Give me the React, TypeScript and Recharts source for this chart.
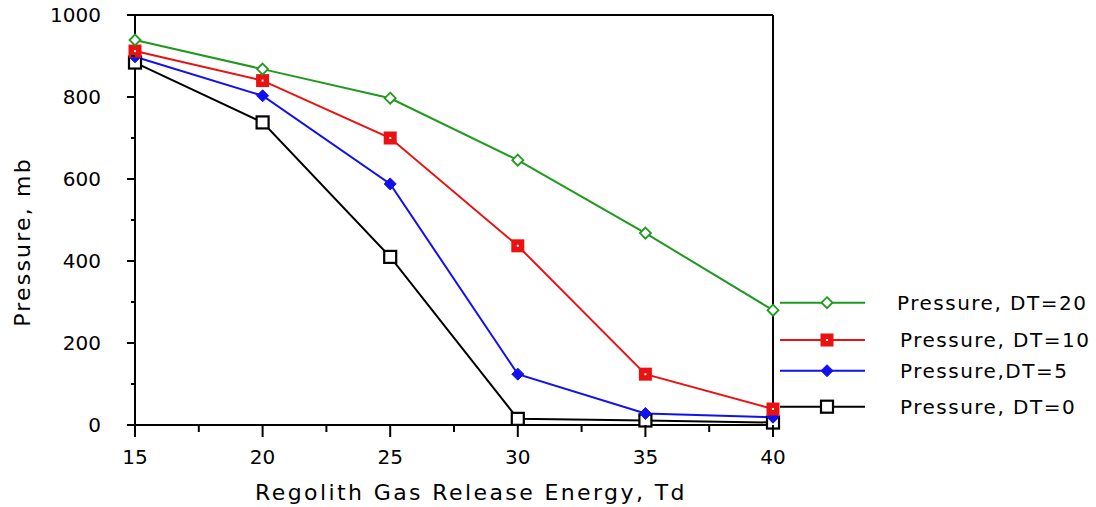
import React from 'react';
import { LineChart, Line, XAxis, YAxis, Legend, ReferenceLine, Label } from 'recharts';

// ---- data ----
const energies = [15, 20, 25, 30, 35, 40];
const pressureDT20 = [939, 868, 797, 646, 468, 280];
const pressureDT10 = [912, 840, 700, 437, 124, 39];
const pressureDT5 = [898, 803, 588, 124, 28, 19];
const pressureDT0 = [884, 738, 410, 15, 11, 6];

const xMajorTicks = [15, 20, 25, 30, 35, 40];
const xMinorTicks = [17.5, 22.5, 27.5, 32.5, 37.5];
const yMajorTicks = [0, 200, 400, 600, 800, 1000];
const yMinorTicks = [100, 300, 500, 700, 900];

const xTitle = 'Regolith Gas Release Energy, Td';
const yTitle = 'Pressure, mb';

type Kind = 'diamondOpen' | 'squareRed' | 'diamondFilled' | 'squareOpen';

const seriesList: { key: string; name: string; color: string; kind: Kind }[] = [
  { key: 'dt20', name: 'Pressure, DT=20', color: '#1f9a1f', kind: 'diamondOpen' },
  { key: 'dt10', name: 'Pressure, DT=10', color: '#ec1111', kind: 'squareRed' },
  { key: 'dt5', name: 'Pressure,DT=5', color: '#1111ee', kind: 'diamondFilled' },
  { key: 'dt0', name: 'Pressure, DT=0', color: '#000000', kind: 'squareOpen' },
];

const data = energies.map((e, i) => ({
  energy: e,
  dt20: pressureDT20[i],
  dt10: pressureDT10[i],
  dt5: pressureDT5[i],
  dt0: pressureDT0[i],
}));

// ---- style ----
const FONT = 'DejaVu Sans';
const LEGEND_ROWS = [17.7, 55, 85.7, 121.7];
const LEGEND_TEXT_X = [121, 124, 124, 124];

function Marker({ kind, cx, cy, color }: { kind: Kind; cx: number; cy: number; color: string }) {
  if (cx == null || cy == null) return <g />;
  switch (kind) {
    case 'diamondOpen':
      return (
        <polygon
          points={`${cx},${cy - 5.5} ${cx + 5.5},${cy} ${cx},${cy + 5.5} ${cx - 5.5},${cy}`}
          fill="#fff"
          stroke={color}
          strokeWidth={1.8}
        />
      );
    case 'squareRed':
      return (
        <g>
          <rect x={cx - 6.5} y={cy - 6.5} width={13} height={13} fill={color} />
          <rect x={cx - 1} y={cy - 1} width={2} height={2} fill="#fff" />
        </g>
      );
    case 'diamondFilled':
      return (
        <polygon
          points={`${cx},${cy - 6} ${cx + 6},${cy} ${cx},${cy + 6} ${cx - 6},${cy}`}
          fill={color}
          stroke={color}
          strokeWidth={1}
        />
      );
    case 'squareOpen':
    default:
      return <rect x={cx - 6} y={cy - 6} width={12} height={12} fill="#fff" stroke={color} strokeWidth={2.2} />;
  }
}

const XTick = (props: any) => {
  const { x, y, payload } = props;
  const major = xMajorTicks.includes(payload.value);
  return (
    <g>
      <line x1={x} y1={y} x2={x} y2={y + (major ? 12 : 7)} stroke="#000" strokeWidth={2} />
      {major && (
        <text x={x} y={y + 32} textAnchor="middle" dominantBaseline="central" fontFamily={FONT} fontSize={20} fill="#000">
          {payload.value}
        </text>
      )}
    </g>
  );
};

const YTick = (props: any) => {
  const { x, y, payload } = props;
  const major = yMajorTicks.includes(payload.value);
  return (
    <g>
      <line x1={x} y1={y} x2={x - (major ? 8 : 4)} y2={y} stroke="#000" strokeWidth={2} />
      {major && (
        <text x={x - 34} y={y} textAnchor="end" dominantBaseline="central" fontFamily={FONT} fontSize={20} fill="#000">
          {payload.value}
        </text>
      )}
    </g>
  );
};

const renderLegend = () => (
  <svg width={320} height={140} style={{ overflow: 'visible', display: 'block' }}>
    {seriesList.map((s, i) => {
      const cy = LEGEND_ROWS[i];
      return (
        <g key={s.key}>
          <line x1={4} y1={cy} x2={89} y2={cy} stroke={s.color} strokeWidth={2} />
          <Marker kind={s.kind} cx={51} cy={cy} color={s.color} />
          <text
            x={LEGEND_TEXT_X[i]}
            y={cy}
            dominantBaseline="central"
            fontFamily={FONT}
            fontSize={20}
            letterSpacing={1.5}
            fill="#000"
          >
            {s.name}
          </text>
        </g>
      );
    })}
  </svg>
);

const drawOrder = [...seriesList].reverse();

export default function App() {
  const xTicks = [...xMajorTicks, ...xMinorTicks].sort((a, b) => a - b);
  const yTicks = [...yMajorTicks, ...yMinorTicks].sort((a, b) => a - b);
  return (
    <div style={{ position: 'absolute', left: 0, top: 0, width: 1096, height: 507, background: '#fff' }}>
      <LineChart width={1096} height={507} data={data} margin={{ top: 15, right: 323, bottom: 22, left: 75 }}>
        <XAxis
          dataKey="energy"
          type="number"
          domain={[15, 40]}
          ticks={xTicks}
          interval={0}
          tickLine={false}
          tickSize={0}
          tickMargin={0}
          tick={<XTick />}
          height={60}
          axisLine={{ stroke: '#000', strokeWidth: 2 }}
        >
          <Label
            content={(p: any) => {
              const vb = p.viewBox;
              return (
                <text
                  x={vb.x + vb.width / 2 + 17}
                  y={492}
                  textAnchor="middle"
                  dominantBaseline="central"
                  fontFamily={FONT}
                  fontSize={22}
                  letterSpacing={2.4}
                  fill="#000"
                >
                  {xTitle}
                </text>
              );
            }}
          />
        </XAxis>
        <YAxis
          type="number"
          domain={[0, 1000]}
          ticks={yTicks}
          interval={0}
          tickLine={false}
          tickSize={0}
          tickMargin={0}
          tick={<YTick />}
          width={60}
          axisLine={{ stroke: '#000', strokeWidth: 2 }}
        >
          <Label
            content={() => (
              <text
                x={22}
                y={242}
                transform="rotate(-90 22 242)"
                textAnchor="middle"
                dominantBaseline="central"
                fontFamily={FONT}
                fontSize={22}
                letterSpacing={2.2}
                fill="#000"
              >
                {yTitle}
              </text>
            )}
          />
        </YAxis>
        <ReferenceLine y={1000} stroke="#000" strokeWidth={2} />
        <ReferenceLine x={40} stroke="#000" strokeWidth={2} />
        {drawOrder.map((s) => (
          <Line
            key={s.key}
            dataKey={s.key}
            name={s.name}
            stroke={s.color}
            strokeWidth={2}
            isAnimationActive={false}
            dot={(p: any) => <Marker key={`${s.key}-${p.index}`} kind={s.kind} cx={p.cx} cy={p.cy} color={s.color} />}
            activeDot={false}
          />
        ))}
        <Legend
          content={renderLegend}
          wrapperStyle={{ position: 'absolute', left: 776, top: 285, width: 0, height: 0, overflow: 'visible' }}
        />
      </LineChart>
    </div>
  );
}
